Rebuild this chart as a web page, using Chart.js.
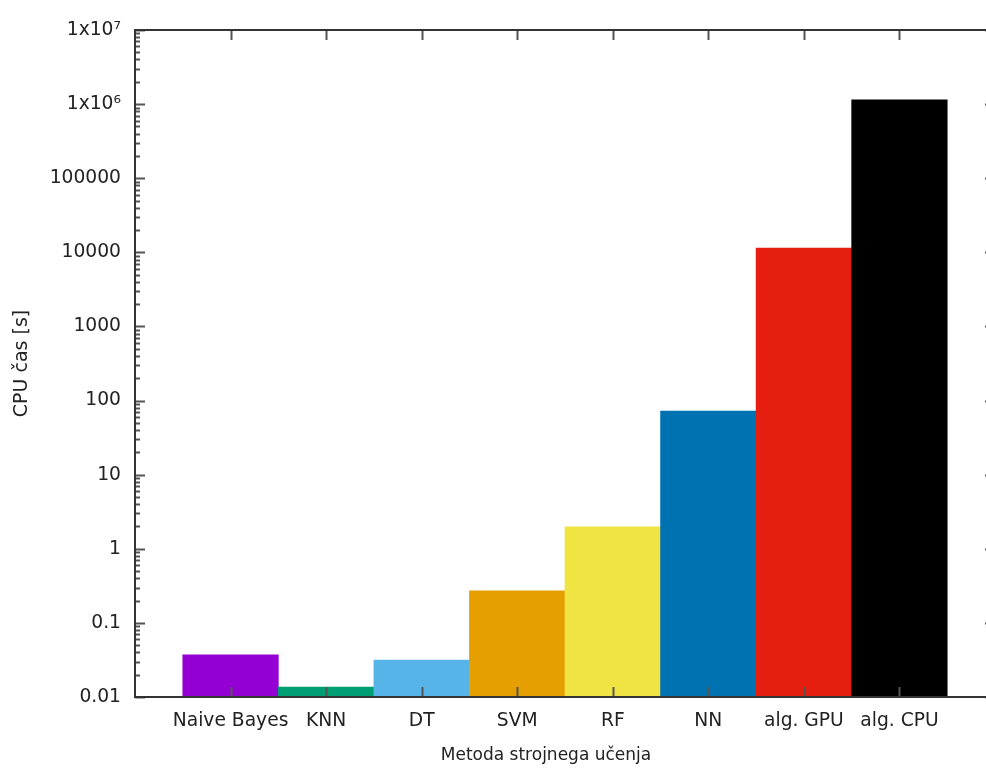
<!DOCTYPE html>
<html>
<head>
<meta charset="utf-8">
<script src="https://cdn.jsdelivr.net/npm/chart.js@4.4.0/dist/chart.umd.min.js"></script>
<style>
  html, body { margin: 0; padding: 0; background: #fff; overflow: hidden; }
  #wrap { position: absolute; left: 0; top: 0; width: 1010px; height: 771px; }
</style>
</head>
<body>
<div id="wrap"><canvas id="bar-chart" width="1010" height="771"></canvas></div>
<script>
// podatki
const methods = ['Naive Bayes', 'KNN', 'DT', 'SVM', 'RF', 'NN', 'alg. GPU', 'alg. CPU'];
const cpuTime = [0.037, 0.0136, 0.0316, 0.27, 1.97, 72, 11400, 1140000];
const barColors = ['#9400d3', '#009e73', '#56b4e9', '#e69f00', '#f0e442', '#0072b2', '#e51e10', '#000000'];
const yMajor = [0.01, 0.1, 1, 10, 100, 1000, 10000, 100000, 1000000, 10000000];
const yLabels = ['0.01', '0.1', '1', '10', '100', '1000', '10000', '100000', '1x10\u2076', '1x10\u2077'];
const xTitle = 'Metoda strojnega u\u010denja';
const yTitle = 'CPU \u010das [s]';

// minor ticks 2..9 v vsaki dekadi
const yAllTicks = [];
for (let i = 0; i < yMajor.length; i++) {
    yAllTicks.push(yMajor[i]);
    if (i < yMajor.length - 1) {
        for (let k = 2; k <= 9; k++) yAllTicks.push(+(yMajor[i] * k).toPrecision(3));
    }
}

const fontFam = "'DejaVu Sans', sans-serif";

// okvir in ticki v stilu gnuplota
const gnuFrame = {
    id: 'gnuFrame',
    afterDatasetsDraw(chart) {
        const ctx = chart.ctx;
        const a = chart.chartArea;
        const xs = chart.scales.x, ys = chart.scales.y;
        ctx.save();
        // ticki
        ctx.strokeStyle = '#555';
        ctx.lineWidth = 2;
        ctx.beginPath();
        yAllTicks.forEach(v => {
            const y = Math.round(ys.getPixelForValue(v)) + 0.5;
            const len = yMajor.includes(v) ? 10 : 5;
            ctx.moveTo(a.left, y); ctx.lineTo(a.left + len, y);
            ctx.moveTo(a.right, y); ctx.lineTo(a.right - len, y);
        });
        methods.forEach((m, i) => {
            const x = Math.round(xs.getPixelForValue(i)) + 0.5;
            ctx.moveTo(x, a.top); ctx.lineTo(x, a.top + 10);
            ctx.moveTo(x, a.bottom); ctx.lineTo(x, a.bottom - 10);
        });
        ctx.stroke();
        // okvir
        ctx.strokeStyle = '#333';
        ctx.lineWidth = 2;
        ctx.strokeRect(a.left, a.top, a.right - a.left, a.bottom - a.top);
        // naslov x osi
        ctx.fillStyle = '#222';
        ctx.font = '17px ' + fontFam;
        ctx.textAlign = 'center';
        ctx.textBaseline = 'middle';
        ctx.fillText(xTitle, 546, 756);
        ctx.restore();
    }
};

const configBar = {
    type: 'bar',
    data: {
        datasets: [{
            data: cpuTime.map((v, i) => ({ x: i, y: v })),
            backgroundColor: barColors,
            borderWidth: 0,
            categoryPercentage: 1.0,
            barPercentage: 1.0
        }]
    },
    options: {
        responsive: false,
        animation: false,
        devicePixelRatio: 1,
        layout: { padding: { left: 0, top: 30, right: 15, bottom: 0 } },
        plugins: { legend: { display: false }, tooltip: { enabled: false } },
        scales: {
            x: {
                type: 'linear',
                min: -1,
                max: 8,
                offset: false,
                grid: { display: false, drawTicks: false, offset: false },
                border: { display: false },
                ticks: {
                    stepSize: 1,
                    padding: 13,
                    color: '#222',
                    font: { family: fontFam, size: 18.7 },
                    autoSkip: false,
                    maxRotation: 0,
                    callback: (v) => methods[v] !== undefined ? methods[v] : ''
                },
                afterFit(scale) { scale.height = 74; }
            },
            y: {
                type: 'logarithmic',
                min: 0.01,
                max: 10000000,
                grid: { display: false, drawTicks: false },
                border: { display: false },
                afterBuildTicks(scale) {
                    scale.ticks = yMajor.map(v => ({ value: v }));
                },
                ticks: {
                    padding: 14,
                    color: '#222',
                    autoSkip: false,
                    font: { family: fontFam, size: 18.7 },
                    callback: (v) => {
                        const i = yMajor.indexOf(v);
                        return i >= 0 ? yLabels[i] : '';
                    }
                },
                title: {
                    display: true,
                    text: yTitle,
                    color: '#222',
                    font: { family: fontFam, size: 19 },
                    padding: { top: 11, bottom: 0 }
                },
                afterFit(scale) { scale.width = 135; }
            }
        }
    },
    plugins: [gnuFrame]
};

window.onload = function() {
    const ctx = document.getElementById('bar-chart').getContext('2d');
    window.myBar = new Chart(ctx, configBar);
};
</script>
</body>
</html>
